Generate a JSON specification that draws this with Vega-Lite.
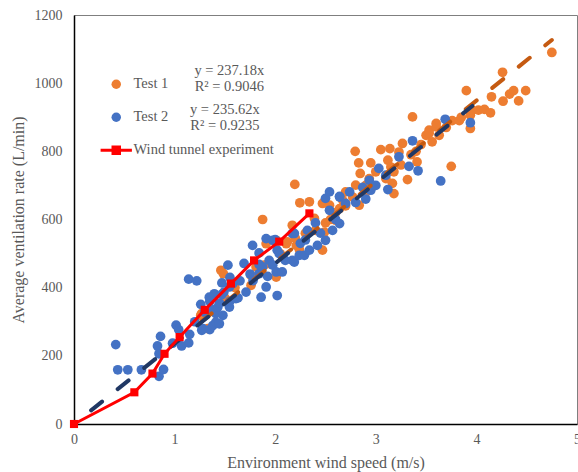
{
  "$schema": "https://vega.github.io/schema/vega-lite/v6.json",
  "width": 503,
  "height": 409,
  "autosize": {"type": "none"},
  "padding": {"left": 74, "top": 15, "right": 1, "bottom": 48},
  "background": "white",
  "config": {
    "font": "Liberation Serif",
    "view": {"stroke": "#7f7f7f", "strokeWidth": 1},
    "axis": {
      "grid": false, "ticks": false, "domainColor": "#000000", "domainWidth": 1.5, "labelFlush": false,
      "labelFont": "Liberation Serif", "labelFontSize": 14, "labelColor": "#595959",
      "titleFont": "Liberation Serif", "titleFontSize": 16, "titleFontWeight": "normal", "titleColor": "#595959"
    }
  },
  "datasets": {
    "pts": [
      {"series":"Test 1","x":1.26,"y":319},{"series":"Test 1","x":1.33,"y":280},{"series":"Test 1","x":1.27,"y":324},{"series":"Test 1","x":1.40,"y":330},
      {"series":"Test 1","x":1.46,"y":451},{"series":"Test 1","x":1.485,"y":441},{"series":"Test 1","x":1.50,"y":370},{"series":"Test 1","x":1.60,"y":400},
      {"series":"Test 1","x":1.76,"y":436},{"series":"Test 1","x":1.76,"y":407},{"series":"Test 1","x":1.81,"y":461},{"series":"Test 1","x":1.875,"y":600},
      {"series":"Test 1","x":1.89,"y":466},{"series":"Test 1","x":1.91,"y":529},{"series":"Test 1","x":1.95,"y":470},{"series":"Test 1","x":2.01,"y":431},
      {"series":"Test 1","x":2.01,"y":539},{"series":"Test 1","x":2.05,"y":500},{"series":"Test 1","x":2.11,"y":529},{"series":"Test 1","x":2.12,"y":534},
      {"series":"Test 1","x":2.17,"y":583},{"series":"Test 1","x":2.195,"y":703},{"series":"Test 1","x":2.20,"y":545},{"series":"Test 1","x":2.21,"y":524},
      {"series":"Test 1","x":2.24,"y":512},{"series":"Test 1","x":2.245,"y":649},{"series":"Test 1","x":2.30,"y":560},{"series":"Test 1","x":2.34,"y":652},
      {"series":"Test 1","x":2.39,"y":603},{"series":"Test 1","x":2.40,"y":568},{"series":"Test 1","x":2.47,"y":510},{"series":"Test 1","x":2.47,"y":647},
      {"series":"Test 1","x":2.49,"y":563},{"series":"Test 1","x":2.50,"y":590},{"series":"Test 1","x":2.54,"y":642},{"series":"Test 1","x":2.55,"y":600},
      {"series":"Test 1","x":2.60,"y":598},{"series":"Test 1","x":2.60,"y":620},{"series":"Test 1","x":2.64,"y":632},{"series":"Test 1","x":2.67,"y":657},
      {"series":"Test 1","x":2.70,"y":681},{"series":"Test 1","x":2.70,"y":640},{"series":"Test 1","x":2.77,"y":666},{"series":"Test 1","x":2.795,"y":800},
      {"series":"Test 1","x":2.80,"y":701},{"series":"Test 1","x":2.83,"y":766},{"series":"Test 1","x":2.835,"y":642},{"series":"Test 1","x":2.845,"y":735},
      {"series":"Test 1","x":2.90,"y":700},{"series":"Test 1","x":2.90,"y":680},{"series":"Test 1","x":2.935,"y":720},{"series":"Test 1","x":2.95,"y":766},
      {"series":"Test 1","x":3.00,"y":740},{"series":"Test 1","x":3.05,"y":805},{"series":"Test 1","x":3.10,"y":720},{"series":"Test 1","x":3.12,"y":774},
      {"series":"Test 1","x":3.14,"y":808},{"series":"Test 1","x":3.15,"y":754},{"series":"Test 1","x":3.165,"y":706},{"series":"Test 1","x":3.18,"y":740},
      {"series":"Test 1","x":3.18,"y":676},{"series":"Test 1","x":3.23,"y":798},{"series":"Test 1","x":3.25,"y":760},{"series":"Test 1","x":3.265,"y":823},
      {"series":"Test 1","x":3.315,"y":717},{"series":"Test 1","x":3.35,"y":790},{"series":"Test 1","x":3.365,"y":901},{"series":"Test 1","x":3.40,"y":800},
      {"series":"Test 1","x":3.41,"y":769},{"series":"Test 1","x":3.45,"y":820},{"series":"Test 1","x":3.50,"y":847},{"series":"Test 1","x":3.53,"y":862},
      {"series":"Test 1","x":3.53,"y":853},{"series":"Test 1","x":3.56,"y":828},{"series":"Test 1","x":3.60,"y":872},{"series":"Test 1","x":3.60,"y":882},
      {"series":"Test 1","x":3.63,"y":847},{"series":"Test 1","x":3.70,"y":870},{"series":"Test 1","x":3.75,"y":756},{"series":"Test 1","x":3.76,"y":890},
      {"series":"Test 1","x":3.83,"y":890},{"series":"Test 1","x":3.85,"y":900},{"series":"Test 1","x":3.90,"y":978},{"series":"Test 1","x":3.94,"y":906},
      {"series":"Test 1","x":3.94,"y":867},{"series":"Test 1","x":3.96,"y":921},{"series":"Test 1","x":4.02,"y":921},{"series":"Test 1","x":4.08,"y":923},
      {"series":"Test 1","x":4.14,"y":913},{"series":"Test 1","x":4.15,"y":960},{"series":"Test 1","x":4.26,"y":1032},{"series":"Test 1","x":4.265,"y":947},
      {"series":"Test 1","x":4.33,"y":968},{"series":"Test 1","x":4.37,"y":978},{"series":"Test 1","x":4.42,"y":948},{"series":"Test 1","x":4.49,"y":978},
      {"series":"Test 1","x":4.75,"y":1090},
      {"series":"Test 2","x":0.415,"y":233},{"series":"Test 2","x":0.435,"y":159},{"series":"Test 2","x":0.535,"y":159},{"series":"Test 2","x":0.67,"y":159},
      {"series":"Test 2","x":0.83,"y":229},{"series":"Test 2","x":0.845,"y":206},{"series":"Test 2","x":0.845,"y":140},{"series":"Test 2","x":0.86,"y":257},
      {"series":"Test 2","x":0.89,"y":160},{"series":"Test 2","x":0.98,"y":237},{"series":"Test 2","x":1.015,"y":290},{"series":"Test 2","x":1.04,"y":277},
      {"series":"Test 2","x":1.07,"y":229},{"series":"Test 2","x":1.14,"y":238},{"series":"Test 2","x":1.15,"y":263},{"series":"Test 2","x":1.14,"y":425},
      {"series":"Test 2","x":1.20,"y":300},{"series":"Test 2","x":1.22,"y":420},{"series":"Test 2","x":1.26,"y":351},{"series":"Test 2","x":1.27,"y":275},
      {"series":"Test 2","x":1.28,"y":280},{"series":"Test 2","x":1.30,"y":328},{"series":"Test 2","x":1.345,"y":372},{"series":"Test 2","x":1.35,"y":277},
      {"series":"Test 2","x":1.35,"y":360},{"series":"Test 2","x":1.38,"y":335},{"series":"Test 2","x":1.38,"y":289},{"series":"Test 2","x":1.395,"y":382},
      {"series":"Test 2","x":1.41,"y":324},{"series":"Test 2","x":1.41,"y":299},{"series":"Test 2","x":1.43,"y":343},{"series":"Test 2","x":1.445,"y":355},
      {"series":"Test 2","x":1.445,"y":294},{"series":"Test 2","x":1.47,"y":380},{"series":"Test 2","x":1.47,"y":414},{"series":"Test 2","x":1.48,"y":319},
      {"series":"Test 2","x":1.49,"y":387},{"series":"Test 2","x":1.53,"y":466},{"series":"Test 2","x":1.545,"y":343},{"series":"Test 2","x":1.545,"y":402},
      {"series":"Test 2","x":1.55,"y":360},{"series":"Test 2","x":1.55,"y":430},{"series":"Test 2","x":1.58,"y":412},{"series":"Test 2","x":1.61,"y":368},
      {"series":"Test 2","x":1.63,"y":370},{"series":"Test 2","x":1.65,"y":420},{"series":"Test 2","x":1.69,"y":471},{"series":"Test 2","x":1.71,"y":387},
      {"series":"Test 2","x":1.75,"y":440},{"series":"Test 2","x":1.775,"y":524},{"series":"Test 2","x":1.78,"y":421},{"series":"Test 2","x":1.84,"y":502},
      {"series":"Test 2","x":1.84,"y":441},{"series":"Test 2","x":1.84,"y":468},{"series":"Test 2","x":1.86,"y":372},{"series":"Test 2","x":1.875,"y":461},
      {"series":"Test 2","x":1.91,"y":544},{"series":"Test 2","x":1.91,"y":402},{"series":"Test 2","x":1.925,"y":433},{"series":"Test 2","x":1.94,"y":480},
      {"series":"Test 2","x":1.975,"y":539},{"series":"Test 2","x":1.975,"y":466},{"series":"Test 2","x":2.0,"y":541},{"series":"Test 2","x":2.01,"y":446},
      {"series":"Test 2","x":2.02,"y":377},{"series":"Test 2","x":2.02,"y":510},{"series":"Test 2","x":2.04,"y":500},{"series":"Test 2","x":2.07,"y":446},
      {"series":"Test 2","x":2.10,"y":480},{"series":"Test 2","x":2.17,"y":559},{"series":"Test 2","x":2.17,"y":480},{"series":"Test 2","x":2.19,"y":475},
      {"series":"Test 2","x":2.19,"y":559},{"series":"Test 2","x":2.24,"y":495},{"series":"Test 2","x":2.25,"y":530},{"series":"Test 2","x":2.29,"y":495},
      {"series":"Test 2","x":2.30,"y":540},{"series":"Test 2","x":2.32,"y":568},{"series":"Test 2","x":2.34,"y":510},{"series":"Test 2","x":2.40,"y":590},
      {"series":"Test 2","x":2.42,"y":524},{"series":"Test 2","x":2.45,"y":560},{"series":"Test 2","x":2.50,"y":539},{"series":"Test 2","x":2.50,"y":662},
      {"series":"Test 2","x":2.54,"y":627},{"series":"Test 2","x":2.54,"y":681},{"series":"Test 2","x":2.57,"y":568},{"series":"Test 2","x":2.60,"y":600},
      {"series":"Test 2","x":2.64,"y":666},{"series":"Test 2","x":2.64,"y":588},{"series":"Test 2","x":2.64,"y":668},{"series":"Test 2","x":2.70,"y":647},
      {"series":"Test 2","x":2.74,"y":681},{"series":"Test 2","x":2.80,"y":650},{"series":"Test 2","x":2.87,"y":694},{"series":"Test 2","x":2.90,"y":660},
      {"series":"Test 2","x":2.935,"y":715},{"series":"Test 2","x":2.95,"y":686},{"series":"Test 2","x":3.00,"y":700},{"series":"Test 2","x":3.03,"y":750},
      {"series":"Test 2","x":3.10,"y":730},{"series":"Test 2","x":3.12,"y":688},{"series":"Test 2","x":3.23,"y":784},{"series":"Test 2","x":3.33,"y":756},
      {"series":"Test 2","x":3.365,"y":831},{"series":"Test 2","x":3.42,"y":743},{"series":"Test 2","x":3.645,"y":713},{"series":"Test 2","x":3.69,"y":894},
      {"series":"Test 2","x":3.94,"y":884},
      {"series":"Wind tunnel experiment","x":0,"y":0},{"series":"Wind tunnel experiment","x":0.6,"y":93},{"series":"Wind tunnel experiment","x":0.78,"y":148},
      {"series":"Wind tunnel experiment","x":0.9,"y":206},{"series":"Wind tunnel experiment","x":1.05,"y":255},{"series":"Wind tunnel experiment","x":1.3,"y":335},
      {"series":"Wind tunnel experiment","x":1.56,"y":412},{"series":"Wind tunnel experiment","x":1.79,"y":480},{"series":"Wind tunnel experiment","x":2.04,"y":535},
      {"series":"Wind tunnel experiment","x":2.34,"y":618}
    ],
    "trend": [
      {"series":"Test 1","x":1.26,"y":298.8},{"series":"Test 1","x":4.75,"y":1126.6},
      {"series":"Test 2","x":0.17,"y":40.1},{"series":"Test 2","x":3.96,"y":933.1}
    ]
  },
  "layer": [
    {
      "data": {"name": "pts"},
      "transform": [{"filter": "datum.series !== 'Wind tunnel experiment'"}],
      "mark": {"type": "point", "filled": true, "opacity": 1, "size": 95, "strokeWidth": 0},
      "encoding": {
        "x": {"field": "x", "type": "quantitative", "scale": {"domain": [0, 5], "nice": false},
              "axis": {"values": [0,1,2,3,4,5], "format": "d", "labelFont": "Liberation Serif", "title": "Environment wind speed (m/s)", "labelPadding": 8, "titlePadding": 8}},
        "y": {"field": "y", "type": "quantitative", "scale": {"domain": [0, 1200], "nice": false},
              "axis": {"values": [0,200,400,600,800,1000,1200], "format": "d", "labelFont": "Liberation Serif", "title": "Average ventilation rate (L/min)", "labelPadding": 12, "titlePadding": 8}},
        "color": {"field": "series", "type": "nominal",
                  "scale": {"domain": ["Test 1","Test 2","Wind tunnel experiment"], "range": ["#ED7D31","#4472C4","#FF0000"]},
                  "legend": {"title": null, "orient": "none", "legendX": 35, "legendY": 62, "symbolSize": 90, "labelFontSize": 14.5,
                             "labelColor": "#595959", "labelFont": "Liberation Serif", "labelOffset": 10, "rowPadding": 18, "padding": 0}},
        "shape": {"field": "series", "type": "nominal",
                  "scale": {"domain": ["Test 1","Test 2","Wind tunnel experiment"], "range": ["circle","circle","M-3.3,-0.32H3.3V0.32H-3.3ZM-1,-1H1V1H-1Z"]},
                  "legend": {"title": null, "orient": "none", "legendX": 35, "legendY": 62, "symbolSize": 90, "labelFontSize": 14.5,
                             "labelColor": "#595959", "labelFont": "Liberation Serif", "labelOffset": 10, "rowPadding": 18, "padding": 0}}
      }
    },
    {
      "data": {"name": "trend"},
      "transform": [{"filter": "datum.series === 'Test 1'"}],
      "mark": {"type": "line", "color": "#C55A11", "strokeWidth": 4, "strokeDash": [14, 20], "strokeCap": "round"},
      "encoding": {"x": {"field": "x", "type": "quantitative"}, "y": {"field": "y", "type": "quantitative"}}
    },
    {
      "data": {"name": "trend"},
      "transform": [{"filter": "datum.series === 'Test 2'"}],
      "mark": {"type": "line", "color": "#203864", "strokeWidth": 4, "strokeDash": [14, 20], "strokeCap": "round"},
      "encoding": {"x": {"field": "x", "type": "quantitative"}, "y": {"field": "y", "type": "quantitative"}}
    },
    {
      "data": {"name": "pts"},
      "transform": [{"filter": "datum.series === 'Wind tunnel experiment'"}],
      "mark": {"type": "line", "color": "#FF0000", "strokeWidth": 3},
      "encoding": {"x": {"field": "x", "type": "quantitative"}, "y": {"field": "y", "type": "quantitative"}}
    },
    {
      "data": {"name": "pts"},
      "transform": [{"filter": "datum.series === 'Wind tunnel experiment'"}],
      "mark": {"type": "square", "color": "#FF0000", "opacity": 1, "size": 66},
      "encoding": {"x": {"field": "x", "type": "quantitative"}, "y": {"field": "y", "type": "quantitative"}}
    },
    {
      "data": {"values": [{}]},
      "mark": {"type": "text", "text": ["y = 237.18x", "R² = 0.9046"], "font": "Liberation Serif", "fontSize": 14.5, "color": "#595959", "align": "center", "baseline": "middle", "lineHeight": 16},
      "encoding": {"x": {"datum": 1.544}, "y": {"datum": 1036}}
    },
    {
      "data": {"values": [{}]},
      "mark": {"type": "text", "text": ["y = 235.62x", "R² = 0.9235"], "font": "Liberation Serif", "fontSize": 14.5, "color": "#595959", "align": "center", "baseline": "middle", "lineHeight": 16},
      "encoding": {"x": {"datum": 1.5}, "y": {"datum": 920}}
    }
  ]
}
